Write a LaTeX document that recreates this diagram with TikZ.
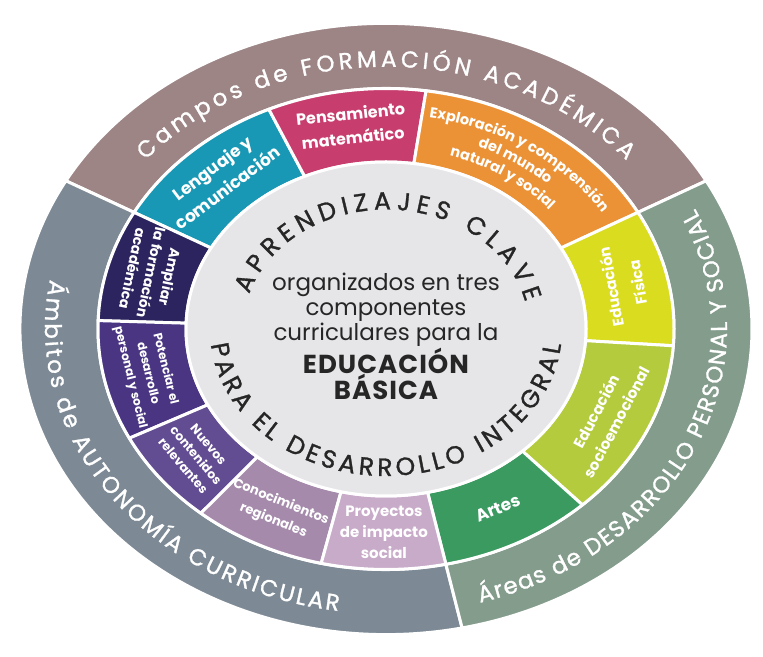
\documentclass[tikz,border=0pt]{standalone}
\usepackage{fontspec}
\setmainfont{Poppins}
\newfontfamily\medfont{Poppins}[FakeBold=1.2]
\usetikzlibrary{decorations.text}
\definecolor{campos}{RGB}{157,133,134}
\definecolor{ambitos}{RGB}{125,138,149}
\definecolor{areas}{RGB}{131,156,140}
\definecolor{lenguaje}{RGB}{24,152,180}
\definecolor{pensamiento}{RGB}{199,62,110}
\definecolor{exploracion}{RGB}{236,146,54}
\definecolor{fisica}{RGB}{218,220,32}
\definecolor{socioemo}{RGB}{180,203,62}
\definecolor{artes}{RGB}{58,154,96}
\definecolor{ampliar}{RGB}{44,36,94}
\definecolor{potenciar}{RGB}{74,53,130}
\definecolor{nuevos}{RGB}{98,76,146}
\definecolor{conocim}{RGB}{165,138,172}
\definecolor{proyectos}{RGB}{200,170,201}
\definecolor{nucleo}{RGB}{230,230,233}
\def\ringseg[#1](#2:#3:#4:#5){\filldraw[#1] (#2:#4) arc (#2:#3:#4) -- (#3:#5) arc (#3:#2:#5) -- cycle;}
\def\arctext[#1](#2:#3:#4)#5{\path[decorate,decoration={text along path,#1,text={#5}}] (#2:#4) arc (#2:#3:#4);}
\newcommand\labsize[2]{\fontsize{#1}{#2}\selectfont\bfseries}
\newcommand\ringsize{\medfont\fontsize{23}{23}\selectfont}
\newcommand\coresize{\medfont\fontsize{25}{25}\selectfont}

\begin{document}
\begin{tikzpicture}[x=1pt,y=1pt,
		seg/.style={draw=white,line width=3pt,line join=round},
		lab/.style={text=white,align=center,inner sep=0pt}]
		%%%%% START %%%%%
		\fill[white] (0,0) rectangle (763,656);
		\useasboundingbox (0,0) rectangle (763,656);
		\begin{scope}[shift={(386,327)},yscale=0.835]
		% outer ring
		\ringseg[seg,fill=campos](29:151:366:288)
		\ringseg[seg,fill=ambitos](151:282:366:288)
		\ringseg[seg,fill=areas](-78:29:366:288)
		
		% middle ring
		\ringseg[seg,fill=lenguaje](114:151:288:200)
		\ringseg[seg,fill=pensamiento](82:114:288:200)
		\ringseg[seg,fill=exploracion](29:82:288:200)
		\ringseg[seg,fill=fisica](-4:29:288:200)
		\ringseg[seg,fill=socioemo](-47:-4:288:200)
		\ringseg[seg,fill=artes](-78:-47:288:200)
		\ringseg[seg,fill=ampliar](151:178:288:200)
		\ringseg[seg,fill=potenciar](178:207:288:200)
		\ringseg[seg,fill=nuevos](207:230:288:200)
		\ringseg[seg,fill=conocim](230:257:288:200)
		\ringseg[seg,fill=proyectos](257:282:288:200)
		
		% core
		\filldraw[seg,fill=nucleo] (0,0) circle (200);
		
		% outer labels
		\arctext[text color=white,text align=fit to path](140:40:314){|\ringsize|Campos de FORMACIÓN ACADÉMICA}
		\arctext[text color=white,text align=fit to path](170:262:341){|\ringsize|Ámbitos de AUTONOMÍA CURRICULAR}
		\arctext[text color=white,text align=fit to path](-74:25:341){|\ringsize|Áreas de DESARROLLO PERSONAL Y SOCIAL}
		
		% core labels
		\arctext[text color=black!85,text align=fit to path](163:13:143){|\coresize|APRENDIZAJES CLAVE}
		\arctext[text color=black!85,text align=fit to path](186:354:176){|\coresize|PARA EL DESARROLLO INTEGRAL}
		\node[align=center,text=black!85,font=\fontsize{23}{25}\selectfont] (centro) at (0,-9)
			{organizados en tres\\componentes\\curriculares para la\\{\bfseries\fontsize{26}{26}\selectfont\addfontfeature{LetterSpace=4}EDUCACIÓN}\\{\bfseries\fontsize{26}{26}\selectfont\addfontfeature{LetterSpace=4}BÁSICA}};
		
		% middle labels
		\node[lab,font=\labsize{17}{25},rotate=37] (lenguaje) at (132.5:246) {Lenguaje y\\comunicación};
		\node[lab,font=\labsize{16}{24},rotate=6] (pensamiento) at (98:246) {Pensamiento\\matemático};
		\arctext[text color=white,text align=center](88:24:257){|\labsize{14.5}{16}|Exploración y comprensión}
		\arctext[text color=white,text align=center](88:24:237){|\labsize{14.5}{16}|del mundo}
		\arctext[text color=white,text align=center](88:24:217){|\labsize{14.5}{16}|natural y social}
		\node[lab,font=\labsize{15}{27},rotate=100] (fisica) at (12.5:244) {Educación\\Física};
		\node[lab,font=\labsize{15}{23},rotate=62] (socio) at (-25.5:244) {Educación\\socioemocional};
		\node[lab,font=\labsize{17}{20},rotate=23] (artes) at (-62.5:242) {Artes};
		\node[lab,font=\labsize{14}{19},rotate=-102] (ampliar) at (164:244) {Ampliar\\la formación\\académica};
		\node[lab,font=\labsize{12}{18},rotate=-76] (potenciar) at (192.5:244) {Potenciar el\\desarrollo\\personal y social};
		\node[lab,font=\labsize{12.5}{16.5},rotate=-50] (nuevos) at (218.5:243) {Nuevos\\contenidos\\relevantes};
		\node[lab,font=\labsize{13}{20},rotate=-22] (conocim) at (243.5:244) {Conocimientos\\regionales};
		\node[lab,font=\labsize{15}{21},rotate=0] (proyectos) at (269.5:244) {Proyectos\\de impacto\\social};
		\end{scope}
		%%%%% END %%%%%
\end{tikzpicture}
\end{document}
